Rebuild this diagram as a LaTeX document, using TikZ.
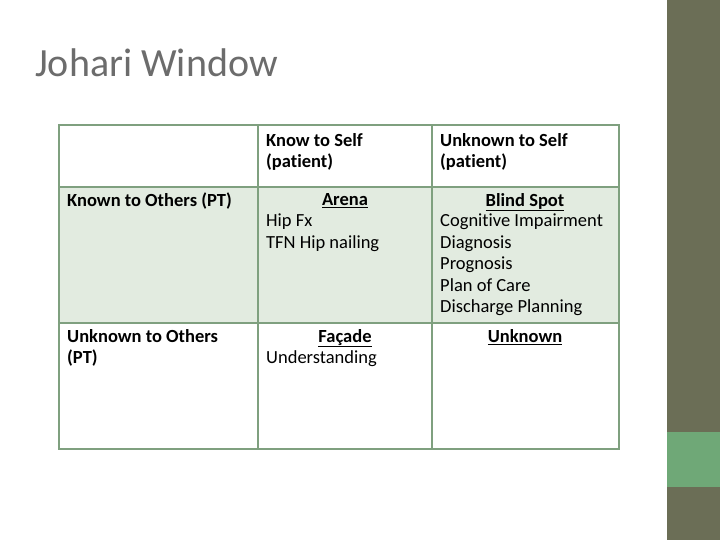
\documentclass[tikz,border=0pt]{standalone}
\usepackage{fontspec}
\setmainfont{Carlito}[Ligatures={NoCommon}]
\usetikzlibrary{calc}
\definecolor{bar}{HTML}{6B6E56}
\definecolor{barg}{HTML}{6FA877}
\definecolor{grid}{HTML}{7FA07F}
\definecolor{tint}{HTML}{E2EBE0}
\begin{document}
\begin{tikzpicture}[x=1pt,y=-1pt,
  cell/.style={anchor=north west,align=left,font=\fontsize{18.5}{21.5}\selectfont,inner sep=0pt},
  ctr/.style={anchor=north,align=center,font=\fontsize{18.5}{21.5}\selectfont\bfseries,inner sep=0pt}]
\useasboundingbox (0,0) rectangle (720,540);
\fill[white] (0,0) rectangle (720,540);
\fill[bar] (667,0) rectangle (720,540);
\fill[barg] (667,432) rectangle (720,487);
\node[anchor=west,inner sep=0pt,text=gray!85!black,font=\fontsize{40}{40}\selectfont] (title) at (35,63) {Johari Window};
\fill[tint] (59,187) rectangle (619,323);
\draw[grid,line width=2pt] (59,125) rectangle (619,449);
\draw[grid,line width=2pt] (258,125) -- (258,449) (432,125) -- (432,449)
  (59,187) -- (619,187) (59,323) -- (619,323);
\node[cell,font=\fontsize{18.5}{21.5}\selectfont\bfseries] (h1) at (266,133) {Know to Self\\(patient)};
\node[cell,font=\fontsize{18.5}{21.5}\selectfont\bfseries] (h2) at (440,133) {Unknown to Self\\(patient)};
\node[cell,font=\fontsize{18.5}{21.5}\selectfont\bfseries] (r1) at (67,193) {Known to Others (PT)};
\node[cell,font=\fontsize{18.5}{21.5}\selectfont\bfseries] (r2) at (67,329) {Unknown to Others\\(PT)};
\node[ctr] (arena) at (345,193) {\underline{Arena}};
\node[cell] (a1) at (266,214) {Hip Fx\\TFN Hip nailing};
\node[ctr] (blind) at (525,193) {\underline{Blind Spot}};
\node[cell] (b1) at (440,214) {Cognitive Impairment\\Diagnosis\\Prognosis\\Plan of Care\\Discharge Planning};
\node[ctr] (facade) at (345,329) {\underline{Façade}};
\node[cell] (f1) at (266,350) {Understanding};
\node[ctr] (unk) at (525,329) {\underline{Unknown}};
\end{tikzpicture}
\end{document}
